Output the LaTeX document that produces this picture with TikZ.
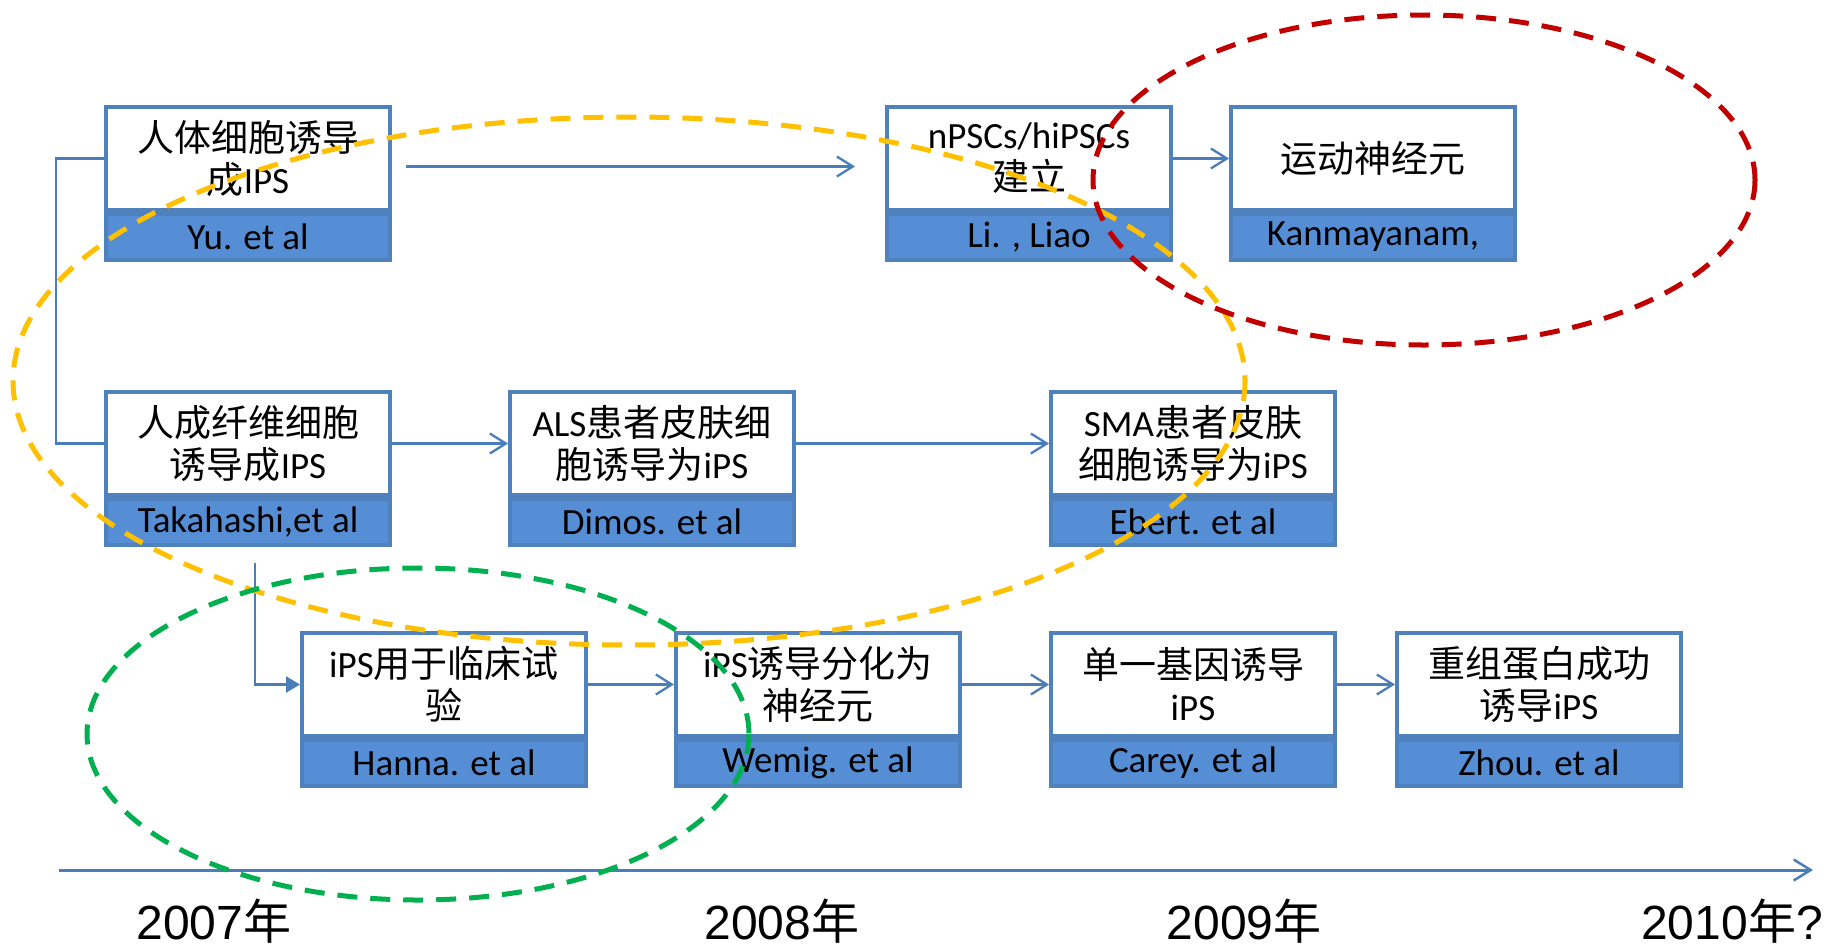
\documentclass[tikz,border=0pt]{standalone}
\usepackage{fontspec}
\setmainfont{Carlito}
\newfontfamily\zh{Noto Sans CJK SC}
\newfontfamily\yearfont{Liberation Sans}
\usetikzlibrary{arrows.meta,calc}
\definecolor{bordc}{HTML}{4F81BD}
\definecolor{authc}{HTML}{558ED5}
\definecolor{connc}{HTML}{4A7EBB}
\definecolor{ylw}{HTML}{FFC000}
\definecolor{redc}{HTML}{C00000}
\definecolor{grn}{HTML}{00B050}
\tikzset{
  wbox/.style={draw=bordc, line width=4pt, fill=white, minimum width=284pt, minimum height=103pt,
    inner sep=0pt, align=center, font=\fontsize{37}{42}\selectfont, anchor=north west},
  abox/.style={draw=bordc, line width=4pt, fill=authc, minimum width=284pt, minimum height=46pt,
    inner sep=0pt, align=center, font=\fontsize{37}{42}\selectfont, anchor=north},
  conn/.style={draw=connc, line width=2.3pt},
  openarr/.style={-{Straight Barb[length=16pt,width=20pt,line width=2.3pt]}},
  fillarr/.style={-{Triangle[length=14pt,width=16pt]}},
  loop/.style={line width=5pt, dash pattern=on 20pt off 13pt},
  yearlbl/.style={font=\yearfont\fontsize{48}{52}\selectfont, anchor=base, inner sep=0pt}
}
\newcommand\evbox[5]{%
  \node[wbox] (#1) at (#2,#3) {#4};
  \node[abox] (#1a) at (#1.south) {#5};
}
\begin{document}
\begin{tikzpicture}[x=1pt,y=-1pt]
\useasboundingbox (0,0) rectangle (1838,948);
\fill[white] (0,0) rectangle (1838,948);

% boxes
\evbox{b1}{104}{105}{{\zh 人体细胞诱导}\\{\zh 成}IPS}{Yu. et al}
\evbox{b2}{885}{105}{nPSCs/hiPSCs\\{\zh 建立}}{Li. , Liao}
\evbox{b3}{1229}{105}{{\zh 运动神经元}}{Kanmayanam,}
\evbox{b4}{104}{390}{{\zh 人成纤维细胞}\\{\zh 诱导成}IPS}{Takahashi,et al}
\evbox{b5}{508}{390}{ALS{\zh 患者皮肤细}\\{\zh 胞诱导为}iPS}{Dimos. et al}
\evbox{b6}{1049}{390}{SMA{\zh 患者皮肤}\\{\zh 细胞诱导为}iPS}{Ebert. et al}
\evbox{b7}{300}{631}{iPS{\zh 用于临床试}\\{\zh 验}}{Hanna. et al}
\evbox{b8}{674}{631}{iPS{\zh 诱导分化为}\\{\zh 神经元}}{Wemig. et al}
\evbox{b9}{1049}{631}{{\zh 单一基因诱导}\\iPS}{Carey. et al}
\evbox{b10}{1395}{631}{{\zh 重组蛋白成功}\\{\zh 诱导}iPS}{Zhou. et al}

% connectors
\draw[conn] (b1.west) -- ++(-48,0) |- (b4.west);
\draw[conn,openarr] ([shift={(14,8)}]b1.east) -- ([shift={(-30,8)}]b2.west);
\draw[conn,openarr] (b2.east) -- (b3.west);
\draw[conn,openarr] (b4.east) -- (b5.west);
\draw[conn,openarr] (b5.east) -- (b6.west);
\draw[conn,fillarr] ([shift={(7,16)}]b4a.south) |- (b7.west);
\draw[conn,openarr] (b7.east) -- (b8.west);
\draw[conn,openarr] (b8.east) -- (b9.west);
\draw[conn,openarr] (b9.east) -- (b10.west);

% timeline
\coordinate (t0) at (59,870);
\coordinate (t1) at (1813,870);
\draw[draw=connc, line width=3pt, -{Straight Barb[length=17pt,width=21pt,line width=2.5pt]}] (t0) -- (t1);
\node[yearlbl] (y7) at (214,939) {2007{\zh 年}};
\node[yearlbl] (y8) at (782,939) {2008{\zh 年}};
\node[yearlbl] (y9) at (1244,939) {2009{\zh 年}};
\node[yearlbl] (y10) at (1732,939) {2010{\zh 年}?};

% dashed loops
\draw[loop, ylw] (629,381) ellipse [x radius=616, y radius=264];
\draw[loop, redc] (1424,180) ellipse [x radius=331, y radius=165];
\draw[loop, grn] (418,734) ellipse [x radius=331, y radius=166];
\end{tikzpicture}
\end{document}
